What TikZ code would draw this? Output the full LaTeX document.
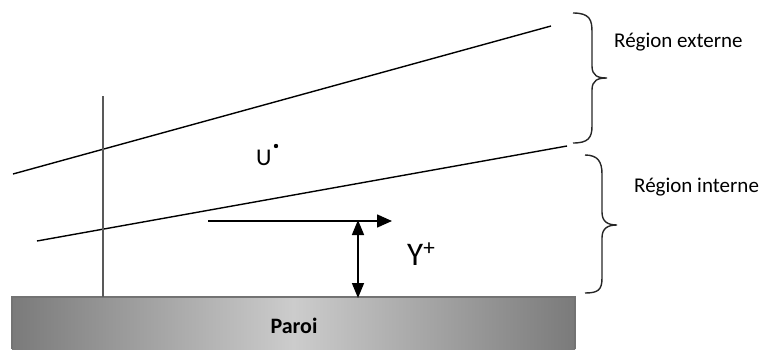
\documentclass[tikz,border=0pt]{standalone}
\usepackage{fontspec}
\setmainfont{Carlito}
\usetikzlibrary{arrows.meta}
\tikzset{
  bline/.style={line width=1.4pt, black},
  vline/.style={line width=1.4pt, black!65},
  brace/.style={line width=1.4pt, black!85},
  arr/.style={line width=1.6pt, black, -{Triangle[length=15pt,width=13pt]}},
  darr/.style={line width=1.6pt, black, {Triangle[length=15pt,width=12pt]}-{Triangle[length=15pt,width=12pt]}},
  lab/.style={inner sep=0pt, anchor=base west, font=\fontsize{21}{24}\selectfont},
}
\begin{document}
\begin{tikzpicture}[x=1pt,y=-1pt]
\useasboundingbox (0,0) rectangle (761,351);
% coordinates
\coordinate (ua) at (13,174);
\coordinate (ub) at (551,26);
\coordinate (la) at (37,241);
\coordinate (lb) at (567,146);
\coordinate (va) at (103,96);
\coordinate (vb) at (103,297);
\coordinate (ha) at (208,221);
\coordinate (hb) at (392,221);
\coordinate (da) at (358,220);
\coordinate (db) at (358,298);
% wall
\shade[left color=black!52, right color=black!52, middle color=black!20]
  (12,297) rectangle (575,349);
\draw[line width=1.2pt, black!55] (12,349) -- (12,297) -- (575,297) -- (575,349);
\node[anchor=base, inner sep=0pt, font=\bfseries\fontsize{22}{24}\selectfont] (paroi) at (294,333) {Paroi};
% lines
\draw[bline] (ua) -- (ub);
\draw[bline] (la) -- (lb);
\draw[vline] (va) -- (vb);
\draw[arr] (ha) -- (hb);
\draw[darr] (da) -- (db);
% braces
\draw[brace] (573,13) .. controls (590,13) and (592,20) .. (592,32) -- (592,66)
  .. controls (592,76) and (598,78) .. (607,78)
  .. controls (598,78) and (592,80) .. (592,90) -- (592,126)
  .. controls (592,138) and (588,143) .. (573,143);
\draw[brace] (585,155) .. controls (598,155) and (602,162) .. (602,174) -- (602,212)
  .. controls (602,222) and (608,225) .. (617,225)
  .. controls (608,225) and (602,228) .. (602,238) -- (602,278)
  .. controls (602,290) and (598,293) .. (585,293);
% labels
\node[lab] (ext) at (614,47) {Région externe};
\node[lab] (int) at (634,192) {Région interne};
\node[inner sep=0pt, anchor=base west, font=\fontsize{24}{26}\selectfont] (u) at (256,165) {U};
\fill (276,146) circle (2.2pt);
\node[lab, font=\fontsize{33}{36}\selectfont] (y) at (407,265) {Y\textsuperscript{+}};
\end{tikzpicture}
\end{document}
